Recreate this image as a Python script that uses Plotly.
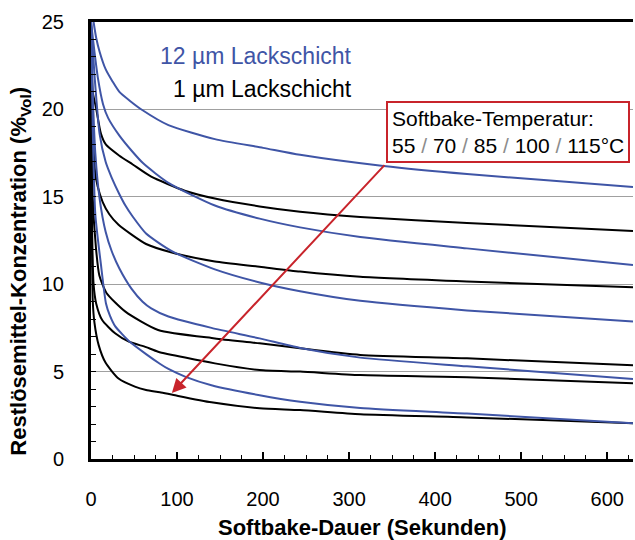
import plotly.graph_objects as go

# ---- data: 12 µm resist (blue), softbake temperatures 55/70/85/100/115 °C ----
x_12_55 = [0, 3, 6, 10, 17, 25, 33, 45, 60, 90, 144, 200, 243, 340, 437, 530, 630]
y_12_55 = [26, 25, 24.1, 23.3, 22.3, 21.6, 21.0, 20.5, 19.95, 19.1, 18.3, 17.8, 17.4, 16.76, 16.3, 15.95, 15.56]
x_12_70 = [0, 4, 8, 14, 20, 33, 47, 61, 90, 144, 196, 243, 313, 437, 630]
y_12_70 = [25, 23.3, 21.8, 20.3, 19.5, 18.5, 17.65, 16.9, 15.8, 14.5, 13.75, 13.25, 12.7, 12.05, 11.1]
x_12_85 = [0, 4, 10, 17, 24, 33, 40, 48, 64, 95, 144, 196, 243, 313, 437, 630]
y_12_85 = [25, 22, 18.6, 17.0, 16.1, 15.15, 14.5, 13.9, 12.9, 11.86, 10.85, 10.1, 9.6, 9.05, 8.5, 7.86]
x_12_100 = [0, 2, 5, 10, 17, 24, 33, 47, 60, 70, 90, 140, 196, 243, 313, 437, 630]
y_12_100 = [25, 21, 17.5, 14.9, 13.0, 11.9, 10.9, 9.75, 9.0, 8.62, 8.15, 7.5, 6.9, 6.35, 5.8, 5.3, 4.58]
x_12_115 = [0, 2, 5, 11.6, 17.4, 22, 28, 37, 44, 64, 80, 90, 110, 140, 196, 243, 313, 437, 630]
y_12_115 = [25, 19, 14, 11.1, 8.9, 8.2, 7.6, 7.1, 6.75, 6.0, 5.45, 5.15, 4.7, 4.22, 3.65, 3.28, 2.92, 2.6, 2.04]

# ---- data: 1 µm resist (black) ----
x_1_55 = [0, 2, 5.8, 11.6, 17.4, 33, 48.5, 70, 109, 144, 196, 243, 313, 437, 630]
y_1_55 = [25, 21, 20.1, 18.6, 17.98, 17.35, 16.85, 16.15, 15.35, 14.9, 14.45, 14.15, 13.85, 13.5, 13.04]
x_1_70 = [0, 2, 4.6, 7.7, 13.6, 21.3, 32, 64, 95, 144, 196, 243, 313, 437, 630]
y_1_70 = [25, 19, 16.5, 15.6, 14.7, 14.0, 13.4, 12.3, 11.8, 11.3, 11.0, 10.72, 10.42, 10.15, 9.82]
x_1_85 = [0, 2, 5.8, 9.7, 18, 40, 78, 144, 196, 243, 313, 437, 630]
y_1_85 = [25, 15, 12.05, 10.5, 9.5, 8.43, 7.38, 6.9, 6.62, 6.33, 5.95, 5.76, 5.36]
x_1_100 = [0, 1, 3, 6, 13, 28, 44, 64, 78, 144, 196, 243, 313, 437, 630]
y_1_100 = [25, 14, 10, 8.9, 7.95, 7.19, 6.71, 6.4, 6.14, 5.47, 5.09, 5.0, 4.8, 4.68, 4.33]
x_1_115 = [0, 1, 2, 4, 9, 17, 32, 51, 64, 80, 96, 140, 196, 243, 313, 437, 630]
y_1_115 = [25, 13, 9.1, 7.8, 6.5, 5.5, 4.6, 4.14, 3.95, 3.82, 3.66, 3.24, 2.9, 2.8, 2.56, 2.38, 2.04]

x_ticks = [0, 100, 200, 300, 400, 500, 600]
y_ticks = [0, 5, 10, 15, 20, 25]

label_12 = "12 µm Lackschicht"
label_1 = "1 µm Lackschicht"
box_title = "Softbake-Temperatur:"
temps = ["55", "70", "85", "100", "115°C"]

BLUE = "#3F55A6"
BLACK = "#000000"
RED = "#C8242B"
FONT = "Liberation Sans, Arial, sans-serif"

black_series = [(x_1_55, y_1_55, "1 µm 55°C"), (x_1_70, y_1_70, "1 µm 70°C"),
                (x_1_85, y_1_85, "1 µm 85°C"), (x_1_100, y_1_100, "1 µm 100°C"),
                (x_1_115, y_1_115, "1 µm 115°C")]
blue_series = [(x_12_55, y_12_55, "12 µm 55°C"), (x_12_70, y_12_70, "12 µm 70°C"),
               (x_12_85, y_12_85, "12 µm 85°C"), (x_12_100, y_12_100, "12 µm 100°C"),
               (x_12_115, y_12_115, "12 µm 115°C")]

fig = go.Figure()
for xs, ys, nm in black_series:
    fig.add_trace(go.Scatter(x=xs, y=ys, name=nm, mode="lines",
                             line=dict(color=BLACK, width=2, shape="spline", smoothing=0.6)))
for xs, ys, nm in blue_series:
    fig.add_trace(go.Scatter(x=xs, y=ys, name=nm, mode="lines",
                             line=dict(color=BLUE, width=2, shape="spline", smoothing=0.6)))

sep = "<span style='color:#8C8C8C'> / </span>"
box_text = box_title + "<br>" + sep.join(temps)

fig.update_layout(
    width=635, height=540,
    margin=dict(l=91, r=2, t=22, b=81),
    paper_bgcolor="white", plot_bgcolor="white",
    showlegend=False,
    font=dict(family=FONT, color="black", size=20),
    xaxis=dict(range=[0, 630], tickvals=x_ticks, ticks="inside", ticklen=7, tickwidth=1.5,
               tickcolor="black", showline=True, linecolor="black", linewidth=2.5, mirror=True,
               showgrid=False, zeroline=False, ticklabelstandoff=20,
               tickfont=dict(size=20, family=FONT),
               minor=dict(dtick=25, ticks="inside", ticklen=4, tickwidth=1, tickcolor="black",
                          showgrid=False)),
    yaxis=dict(range=[0, 25], tickvals=y_ticks, ticks="inside", ticklen=5, tickwidth=1,
               tickcolor="black", showline=True, linecolor="black", linewidth=3,
               showgrid=True, gridcolor="#A0A0A0", gridwidth=1, zeroline=False,
               ticklabelstandoff=20, tickfont=dict(size=20, family=FONT),
               minor=dict(dtick=1, ticks="inside", ticklen=5, tickwidth=1, tickcolor="black",
                          showgrid=False)),
    annotations=[
        dict(text="<b>Softbake-Dauer (Sekunden)</b>", xref="paper", yref="paper",
             x=0.5, y=-0.156, xanchor="center", yanchor="middle", showarrow=False,
             font=dict(size=22, family=FONT)),
        dict(text="<b>Restlösemittel-Konzentration (%<sub>Vol</sub>)</b>", xref="paper", yref="paper",
             x=-0.13, y=0.43, xanchor="center", yanchor="middle", textangle=-90, showarrow=False,
             font=dict(size=22, family=FONT)),
        dict(text=label_12, xref="paper", yref="paper", x=0.485, y=0.922,
             xanchor="right", yanchor="middle", showarrow=False,
             font=dict(size=23, color=BLUE, family=FONT)),
        dict(text=label_1, xref="paper", yref="paper", x=0.485, y=0.847,
             xanchor="right", yanchor="middle", showarrow=False,
             font=dict(size=23, color=BLACK, family=FONT)),
        dict(text="", x=94, y=3.78, ax=342.8, ay=16.9, xref="x", yref="y",
             axref="x", ayref="y", showarrow=True, arrowhead=2, arrowsize=1.4,
             arrowwidth=2, arrowcolor=RED, standoff=0, startstandoff=0),
        dict(text=box_text, x=342.8, y=20.48, xref="x", yref="y", xanchor="left",
             yanchor="top", align="left", showarrow=False, bgcolor="white",
             bordercolor=RED, borderwidth=2, borderpad=4,
             font=dict(size=21, color="black", family=FONT)),
    ],
)

fig.write_html("out.html")
